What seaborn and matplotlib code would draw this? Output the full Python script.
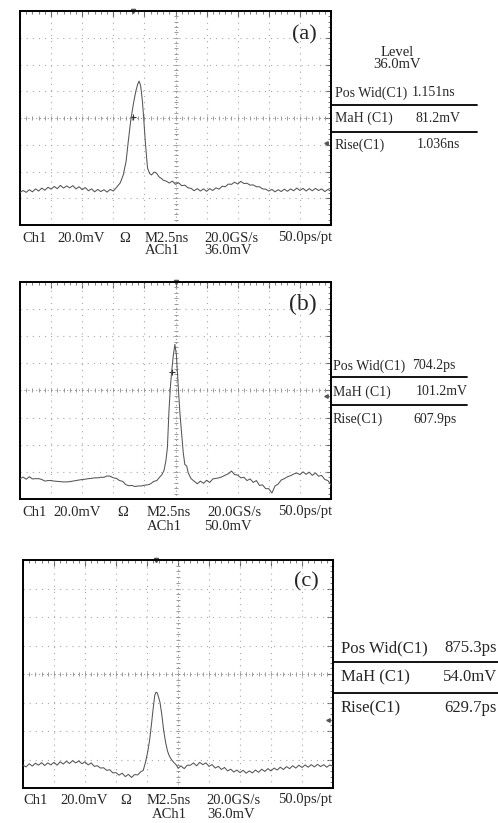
import numpy as np
import matplotlib
matplotlib.use("Agg")
import matplotlib.pyplot as plt
from matplotlib.lines import Line2D
from matplotlib.ticker import MultipleLocator
import seaborn as sns

# Style
# ==============================================================================
sns.set_style("white")
plt.rcParams['font.family'] = ['Liberation Serif', 'DejaVu Serif']

W, H = 498, 823

# Trace data (screen divisions: x 0-10, y 0-8), read from the scope captures
# ==============================================================================
t_a = [0.0, 0.1, 0.2, 0.3, 0.4, 0.5, 0.6, 0.7, 0.8, 0.9, 1.0, 1.1, 1.2, 1.3, 1.4, 1.5,
       1.6, 1.7, 1.8, 1.9, 2.0, 2.1, 2.2, 2.3, 2.4, 2.5, 2.6, 2.7, 2.8, 2.9, 3.0, 3.1,
       3.22, 3.32, 3.41, 3.48, 3.56, 3.64, 3.72, 3.78, 3.83, 3.88, 3.93, 3.97, 4.03,
       4.10, 4.17, 4.23, 4.31, 4.39, 4.47, 4.55, 4.6, 4.7, 4.8, 4.9, 5.0, 5.1, 5.2,
       5.3, 5.4, 5.5, 5.6, 5.7, 5.8, 5.9, 6.0, 6.1, 6.2, 6.3, 6.4, 6.5, 6.6, 6.7, 6.8,
       6.9, 7.0, 7.1, 7.2, 7.3, 7.4, 7.5, 7.6, 7.7, 7.8, 7.9, 8.0, 8.1, 8.2, 8.3, 8.4,
       8.5, 8.6, 8.7, 8.8, 8.9, 9.0, 9.1, 9.2, 9.3, 9.4, 9.5, 9.6, 9.7, 9.8, 9.9, 10.0]
v_a = [1.22, 1.29, 1.22, 1.32, 1.24, 1.35, 1.27, 1.38, 1.30, 1.41, 1.34, 1.44, 1.36, 1.48,
       1.38, 1.46, 1.39, 1.47, 1.35, 1.43, 1.32, 1.40, 1.28, 1.35, 1.24, 1.33, 1.25, 1.32,
       1.23, 1.33, 1.27, 1.40, 1.57, 1.87, 2.37, 3.11, 3.90, 4.49, 4.98, 5.25, 5.38, 5.20,
       4.70, 4.11, 3.10, 2.13, 1.92, 1.87, 1.98, 1.94, 1.80, 1.74, 1.68, 1.64, 1.57, 1.64,
       1.52, 1.58, 1.47, 1.49, 1.39, 1.37, 1.28, 1.36, 1.27, 1.35, 1.26, 1.36, 1.29, 1.39,
       1.34, 1.45, 1.43, 1.53, 1.52, 1.60, 1.53, 1.63, 1.55, 1.56, 1.49, 1.50, 1.43, 1.43,
       1.35, 1.34, 1.27, 1.33, 1.24, 1.32, 1.25, 1.34, 1.26, 1.35, 1.28, 1.38, 1.29, 1.37,
       1.27, 1.36, 1.28, 1.37, 1.29, 1.35, 1.25, 1.33, 1.26]

t_b = [0.0, 0.1, 0.2, 0.3, 0.4, 0.5, 0.6, 0.7, 0.8, 0.9, 1.0, 1.1, 1.2, 1.3, 1.4, 1.5,
       1.6, 1.7, 1.8, 1.9, 2.0, 2.1, 2.2, 2.3, 2.4, 2.5, 2.6, 2.7, 2.8, 2.9, 3.0, 3.1,
       3.2, 3.3, 3.4, 3.5, 3.6, 3.7, 3.8, 3.9, 4.0, 4.1, 4.2, 4.3, 4.4, 4.5, 4.56, 4.63,
       4.69, 4.74, 4.79, 4.84, 4.88, 4.93, 4.98, 5.03, 5.09, 5.14, 5.20, 5.25, 5.30, 5.36,
       5.41, 5.5, 5.63, 5.7, 5.8, 5.9, 6.0, 6.1, 6.2, 6.3, 6.4, 6.5, 6.6, 6.7, 6.8, 6.9,
       7.0, 7.1, 7.2, 7.3, 7.4, 7.5, 7.6, 7.7, 7.8, 7.9, 8.0, 8.1, 8.2, 8.3, 8.4, 8.5,
       8.6, 8.7, 8.8, 8.9, 9.0, 9.1, 9.2, 9.3, 9.4, 9.5, 9.6, 9.7, 9.8, 9.9, 10.0]
v_b = [0.74, 0.81, 0.73, 0.82, 0.74, 0.75, 0.75, 0.72, 0.66, 0.68, 0.68, 0.66, 0.65, 0.64,
       0.63, 0.63, 0.64, 0.66, 0.68, 0.70, 0.72, 0.73, 0.75, 0.76, 0.78, 0.78, 0.80, 0.80,
       0.85, 0.84, 0.78, 0.76, 0.68, 0.65, 0.53, 0.49, 0.50, 0.46, 0.48, 0.48, 0.51, 0.52,
       0.56, 0.65, 0.68, 0.82, 0.89, 1.05, 1.40, 1.90, 3.25, 4.20, 4.73, 5.30, 5.70, 5.30,
       4.10, 3.20, 2.37, 1.70, 1.27, 1.22, 0.96, 0.75, 0.63, 0.56, 0.66, 0.58, 0.69, 0.61,
       0.74, 0.76, 0.78, 0.82, 0.88, 0.93, 1.03, 0.90, 0.88, 0.78, 0.80, 0.68, 0.74, 0.61,
       0.68, 0.50, 0.52, 0.38, 0.38, 0.22, 0.48, 0.55, 0.70, 0.75, 0.82, 0.86, 0.92, 0.96,
       0.90, 1.00, 0.91, 0.99, 0.87, 0.96, 0.84, 0.87, 0.72, 0.68, 0.52]

t_c = [0.0, 0.1, 0.2, 0.3, 0.4, 0.5, 0.6, 0.7, 0.8, 0.9, 1.0, 1.1, 1.2, 1.3, 1.4, 1.5,
       1.6, 1.7, 1.8, 1.9, 2.0, 2.1, 2.2, 2.3, 2.4, 2.5, 2.6, 2.7, 2.8, 2.9, 3.0, 3.1,
       3.2, 3.3, 3.4, 3.5, 3.6, 3.7, 3.8, 3.88, 3.95, 4.02, 4.08, 4.14, 4.20, 4.25, 4.29,
       4.33, 4.37, 4.42, 4.48, 4.54, 4.60, 4.66, 4.72, 4.80, 4.88, 4.95, 5.0, 5.1, 5.2,
       5.3, 5.4, 5.5, 5.6, 5.7, 5.8, 5.9, 6.0, 6.1, 6.2, 6.3, 6.4, 6.5, 6.6, 6.7, 6.8,
       6.9, 7.0, 7.1, 7.2, 7.3, 7.4, 7.5, 7.6, 7.7, 7.8, 7.9, 8.0, 8.1, 8.2, 8.3, 8.4,
       8.5, 8.6, 8.7, 8.8, 8.9, 9.0, 9.1, 9.2, 9.3, 9.4, 9.5, 9.6, 9.7, 9.8, 9.9, 10.0]
v_c = [0.80, 0.74, 0.85, 0.77, 0.87, 0.80, 0.89, 0.79, 0.88, 0.81, 0.90, 0.80, 0.92, 0.84,
       0.94, 0.86, 0.96, 0.88, 0.95, 0.85, 0.92, 0.81, 0.88, 0.76, 0.78, 0.70, 0.71, 0.62,
       0.64, 0.53, 0.54, 0.45, 0.52, 0.40, 0.48, 0.37, 0.47, 0.46, 0.57, 0.62, 0.90, 1.25,
       1.65, 2.20, 2.80, 3.25, 3.36, 3.34, 3.20, 3.00, 2.55, 2.00, 1.60, 1.30, 1.12, 0.98,
       0.88, 0.80, 0.70, 0.77, 0.68, 0.80, 0.80, 0.88, 0.78, 0.90, 0.82, 0.88, 0.76, 0.82,
       0.70, 0.76, 0.65, 0.72, 0.60, 0.66, 0.56, 0.63, 0.54, 0.62, 0.52, 0.60, 0.53, 0.63,
       0.55, 0.66, 0.58, 0.68, 0.60, 0.70, 0.63, 0.73, 0.65, 0.75, 0.68, 0.78, 0.70, 0.80,
       0.72, 0.81, 0.73, 0.82, 0.74, 0.83, 0.75, 0.82, 0.73, 0.81, 0.76]

# Readout texts
# ==============================================================================
labels = ["(a)", "(b)", "(c)"]
trig_level = ["36.0mV", "50.0mV", "36.0mV"]
meas_names = ["Pos Wid(C1)", "MaH (C1)", "Rise(C1)"]
meas_a = ["1.151ns", "81.2mV", "1.036ns"]
meas_b = ["704.2ps", "101.2mV", "607.9ps"]
meas_c = ["875.3ps", "54.0mV", "629.7ps"]


def fx(x):
    return x / W


def fy(y):
    return 1 - y / H


def screen(box, t, v):
    x0, y0, x1, y1 = box
    ax = fig.add_axes([fx(x0), fy(y1), (x1 - x0) / W, (y1 - y0) / H])
    for i in range(1, 10):
        if i != 5:
            ax.axvline(i, color='#a8a8a8', lw=0.8, ls=(0, (1, 4.5)), zorder=1)
    for j in range(1, 8):
        if j != 4:
            ax.axhline(j, color='#a8a8a8', lw=0.8, ls=(0, (1, 4.5)), zorder=1)
    # centre crosshair with sub-division ticks
    ax.axvline(5, color='#9a9a9a', lw=0.8, ls=(0, (1, 2.5)), zorder=1)
    ax.axhline(4, color='#9a9a9a', lw=0.8, ls=(0, (1, 2.5)), zorder=1)
    ax.plot(np.arange(0, 10.01, 0.2), np.full(51, 4.0), ls='none', marker='|',
            ms=3, mew=0.7, color='#9a9a9a', zorder=1)
    ax.plot(np.full(41, 5.0), np.arange(0, 8.01, 0.2), ls='none', marker='_',
            ms=3, mew=0.7, color='#9a9a9a', zorder=1)
    sns.lineplot(x=t, y=v, ax=ax, color='#555555', lw=0.75, estimator=None,
                 sort=False, zorder=3)
    ax.set_xlim(0, 10)
    ax.set_ylim(0, 8)
    ax.xaxis.set_major_locator(MultipleLocator(1))
    ax.yaxis.set_major_locator(MultipleLocator(1))
    ax.xaxis.set_minor_locator(MultipleLocator(0.2))
    ax.yaxis.set_minor_locator(MultipleLocator(0.2))
    ax.tick_params(which='both', direction='in', top=True, right=True,
                   labelbottom=False, labelleft=False, color='#666666')
    ax.tick_params(which='major', length=4, width=0.8)
    ax.tick_params(which='minor', length=2.5, width=0.6)
    ax.set_xlabel("")
    ax.set_ylabel("")
    for s in ax.spines.values():
        s.set_color('black')
        s.set_linewidth(1.4)
    return ax


def hline(x0, x1, y):
    fig.add_artist(Line2D([fx(x0), fx(x1)], [fy(y), fy(y)],
                          transform=fig.transFigure, color='black', lw=1.3))


def bottom_row(y1, y2, xs, lvl, fs=10.5):
    tokens = ["Ch1", "20.0mV", "Ω", "M2.5ns", "20.0GS/s", "50.0ps/pt"]
    for tok, x in zip(tokens, xs[:6]):
        fig.text(fx(x), fy(y1), tok, fontsize=fs, ha='left', va='center')
    fig.text(fx(xs[6]), fy(y2), "ACh1", fontsize=fs, ha='left', va='center')
    fig.text(fx(xs[7]), fy(y2), lvl, fontsize=fs, ha='left', va='center')


fig = plt.figure(figsize=(W / 100, H / 100), dpi=100)

# Panel (a)
# ==============================================================================
ax_a = screen((20, 11, 331, 225), t_a, v_a)
ax_a.text(0.955, 0.935, labels[0], transform=ax_a.transAxes, fontsize=16,
          ha='right', va='top')
ax_a.plot([3.64], [4.04], marker='+', ms=4, mew=0.8, color='#333333')
ax_a.plot([3.64], [8.0], marker='v', ms=3, color='#555555', clip_on=False)
ax_a.plot([9.85], [3.07], marker='<', ms=2.5, color='#555555')
bottom_row(238, 251, [22, 57, 119, 145, 204, 278, 145, 204], trig_level[0])
fig.text(fx(397), fy(52), "Level", fontsize=10.5, ha='center', va='center')
fig.text(fx(397), fy(65), "36.0mV", fontsize=10.5, ha='center', va='center')
for name, val, y, xv in zip(meas_names, meas_a, [93, 118, 145], [412, 416, 417]):
    fig.text(fx(335), fy(y), name, fontsize=10, ha='left', va='center')
    fig.text(fx(xv), fy(y), val, fontsize=10, ha='left', va='center')
hline(331, 477, 105)
hline(331, 477, 132)

# Panel (b)
# ==============================================================================
ax_b = screen((20, 282, 331, 499), t_b, v_b)
ax_b.text(0.955, 0.945, labels[1], transform=ax_b.transAxes, fontsize=17,
          ha='right', va='top')
ax_b.plot([4.89], [4.69], marker='+', ms=4, mew=0.8, color='#333333')
ax_b.plot([5.0], [8.0], marker='v', ms=3, color='#555555', clip_on=False)
ax_b.plot([9.85], [3.8], marker='<', ms=2.5, color='#555555')
bottom_row(512, 527, [22, 53, 117, 147, 207, 278, 147, 204], trig_level[1])
for name, val, y, xv in zip(meas_names, meas_b, [366, 392, 419], [412, 416, 413]):
    fig.text(fx(333), fy(y), name, fontsize=10, ha='left', va='center')
    fig.text(fx(xv), fy(y), val, fontsize=10, ha='left', va='center')
hline(331, 467, 377)
hline(331, 467, 405)

# Panel (c)
# ==============================================================================
ax_c = screen((23, 560, 333, 788), t_c, v_c)
ax_c.text(0.955, 0.945, labels[2], transform=ax_c.transAxes, fontsize=16,
          ha='right', va='top')
ax_c.plot([4.3], [8.0], marker='v', ms=3, color='#555555', clip_on=False)
ax_c.plot([9.85], [2.39], marker='<', ms=2.5, color='#555555')
bottom_row(800, 814, [23, 60, 120, 147, 206, 278, 152, 207], trig_level[2])
for name, val, y in zip(meas_names, meas_c, [648, 677, 708]):
    fig.text(fx(341), fy(y), name, fontsize=12, ha='left', va='center')
    fig.text(fx(497), fy(y), val, fontsize=12, ha='right', va='center')
hline(333, 498, 662)
hline(333, 498, 693)

plt.savefig("out.png", dpi=100)
